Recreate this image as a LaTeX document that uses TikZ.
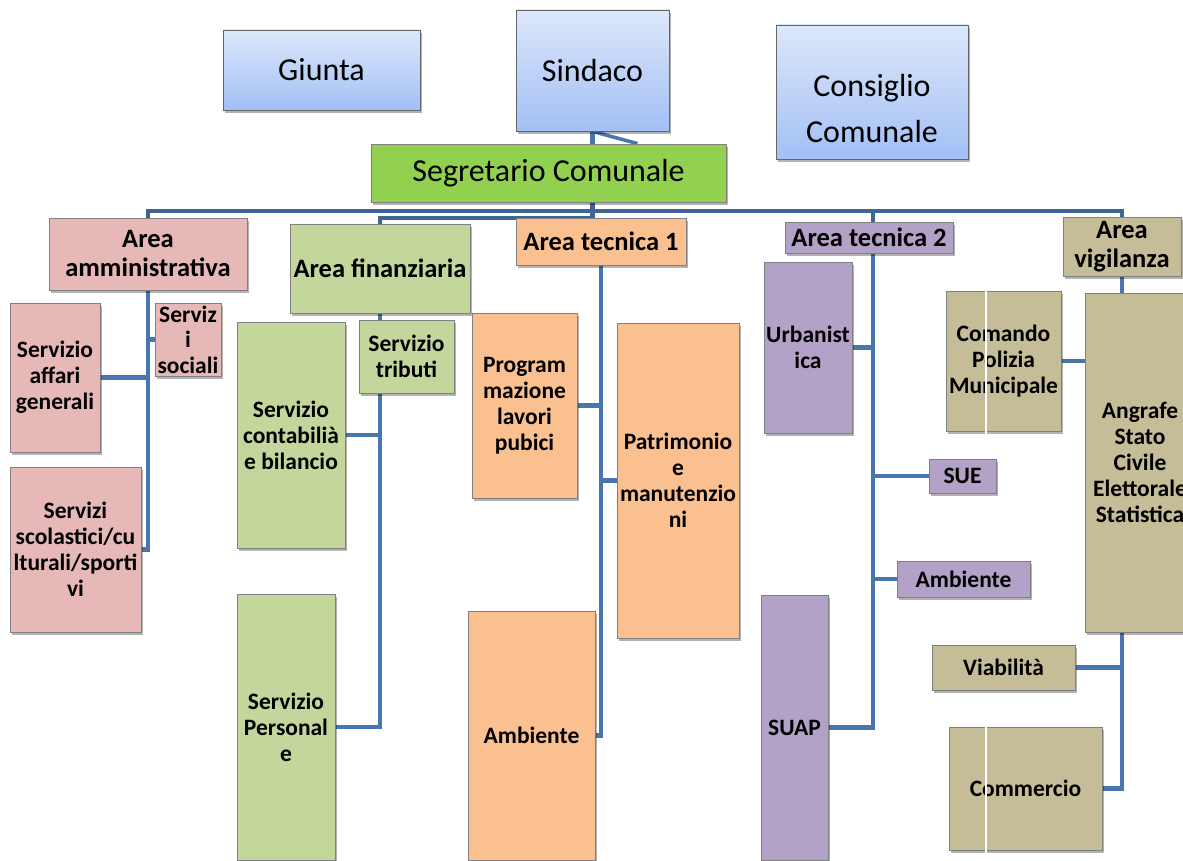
\documentclass[tikz,border=0pt]{standalone}
\usepackage{fontspec}
\setmainfont{Carlito}
\usetikzlibrary{shadows,backgrounds}
\definecolor{bluetop}{HTML}{DDE7FB}
\definecolor{bluebot}{HTML}{A2C0F5}
\definecolor{segc}{HTML}{92D050}
\definecolor{pinkc}{HTML}{E6B9B8}
\definecolor{greenc}{HTML}{C3D69B}
\definecolor{orangec}{HTML}{FAC090}
\definecolor{purplec}{HTML}{B3A2C7}
\definecolor{tanc}{HTML}{C4BD97}
\definecolor{linec}{HTML}{4A76B0}
\definecolor{busc}{HTML}{3E6597}
\newcommand{\bx}[7]{%
  \pgfmathsetmacro\bxw{#4-#2}\pgfmathsetmacro\bxh{#5-#3}%
  \node[#6, minimum width=\bxw pt, minimum height=\bxh pt] (#1) at ({(#2+#4)/2},{(#3+#5)/2}) {#7};}
\tikzset{
  box/.style={draw=black!50, line width=0.8pt, inner sep=0pt, align=center,
    font=\fontsize{23.5}{26}\selectfont\bfseries,
    drop shadow={shadow xshift=2pt, shadow yshift=-3pt, opacity=0.3, fill=black}},
  areabox/.style={box, font=\fontsize{26.5}{29}\selectfont\bfseries},
  topbox/.style={box, draw=black!60, top color=bluetop, bottom color=bluebot,
    font=\fontsize{32}{46}\selectfont},
  conn/.style={draw=linec, line width=4.5pt},
  busline/.style={draw=busc, line width=4.5pt},
  pinkbox/.style={box, fill=pinkc},
  greenbox/.style={box, fill=greenc},
  orangebox/.style={box, fill=orangec},
  purplebox/.style={box, fill=purplec},
  tanbox/.style={box, fill=tanc},
}
\begin{document}
\begin{tikzpicture}[x=1pt, y=-1pt]
\useasboundingbox (0,0) rectangle (1183,861);
% top
\bx{giunta}{223}{30}{420}{110}{topbox}{Giunta}
\bx{sind}{516}{10}{669}{131}{topbox}{Sindaco}
\bx{cons}{776}{25}{968}{159}{topbox}{}
\node[align=center, font=\fontsize{32}{46}\selectfont, yshift=-17pt] (constext) at (cons.center) {Consiglio\\Comunale};
\bx{seg}{371}{144}{726}{202}{box, fill=segc, font=\fontsize{32}{36}\selectfont}{Segretario Comunale}
% areas
\bx{amm}{49}{218}{247}{290}{areabox, fill=pinkc}{Area\\amministrativa}
\bx{fin}{290}{224}{470}{313}{areabox, fill=greenc}{Area finanziaria}
\bx{tec1}{516}{218}{686}{265}{areabox, fill=orangec}{Area tecnica 1}
\bx{tec2}{785}{222}{953}{253}{areabox, fill=purplec}{Area tecnica 2}
\bx{vig}{1063}{217}{1181}{276}{areabox, fill=tanc}{Area\\vigilanza}
% amministrativa
\bx{affari}{10}{303}{100}{452}{pinkbox}{Servizio\\affari\\generali}
\bx{sociali}{155}{303}{221}{376}{pinkbox, font=\fontsize{23.5}{25.5}\selectfont\bfseries}{Serviz\\i\\sociali}
\bx{scol}{10}{467}{141}{632}{pinkbox}{Servizi\\scolastici/cu\\lturali/sporti\\vi}
% finanziaria
\bx{trib}{359}{320}{454}{393}{greenbox}{Servizio\\tributi}
\bx{cont}{237}{322}{345}{548}{greenbox}{Servizio\\contabilià\\e bilancio}
\bx{pers}{237}{594}{335}{860}{greenbox}{Servizio\\Personal\\e}
% tecnica 1
\bx{prog}{472}{313}{577}{498}{orangebox}{Program\\mazione\\lavori\\pubici}
\bx{patr}{617}{323}{739}{638}{orangebox}{Patrimonio\\e\\manutenzio\\ni}
\bx{amb1}{468}{611}{595}{860}{orangebox}{Ambiente}
% tecnica 2
\bx{urb}{764}{262}{852}{433}{purplebox}{Urbanist\\ica}
\bx{sue}{929}{459}{996}{493}{purplebox}{SUE}
\bx{amb2}{897}{561}{1030}{597}{purplebox}{Ambiente}
\bx{suap}{761}{595}{828}{860}{purplebox}{SUAP}
% vigilanza
\bx{com}{946}{291}{1061}{431}{tanbox}{Comando\\Polizia\\Municipale}
\bx{ang}{1085}{293}{1195}{632}{tanbox}{Angrafe\\Stato\\Civile\\Elettorale\\Statistica}
\bx{viab}{932}{645}{1075}{690}{tanbox}{Viabilità}
\bx{comm}{949}{727}{1102}{850}{tanbox}{Commercio}
% white artefact lines
\draw[white, line width=1.5pt] (com.north -| 986,0) -- ([yshift=-6pt]com.south -| 986,0);
\draw[white, line width=1.5pt] (comm.north -| 986,0) -- ([yshift=-10pt]comm.south -| 986,0);
\begin{pgfonlayer}{background}
  \coordinate (bus) at (0,211);
  \coordinate (bus2) at (0,218);
  \coordinate (t2) at ([xshift=4pt]tec2.south);
  % Sindaco - Segretario
  \draw[conn] (sind.south) -- (sind.south |- seg.north);
  \draw[draw=linec, line width=3.5pt] (sind.south) -- ([xshift=45pt]sind.south |- seg.north);
  % main bus
  \draw[busline] (sind.south |- seg.south) -- (sind.south |- tec1.north);
  \draw[busline] (amm.north) -- (amm.north |- bus) -- (vig.north |- bus) -- (vig.north);
  \draw[busline] (fin.north) -- (fin.north |- bus2) -- (sind.south |- bus2);
  \draw[busline] (t2 |- tec2.north) -- (t2 |- bus);
  % amministrativa
  \draw[conn] (amm.south) |- (scol.east);
  \draw[conn] (affari.east) -- (affari.east -| amm.south);
  \draw[conn] (sociali.west) -- (sociali.west -| amm.south);
  % finanziaria
  \draw[conn] (fin.south) |- (pers.east);
  \draw[conn] (cont.east) -- (cont.east -| fin.south);
  % tecnica 1
  \draw[conn] (tec1.south) |- (amb1.east);
  \draw[conn] (prog.east) -- (prog.east -| tec1.south);
  \draw[conn] (patr.west) -- (patr.west -| tec1.south);
  % tecnica 2
  \draw[conn] (t2) |- (suap.east);
  \draw[conn] (urb.east) -- (urb.east -| t2);
  \draw[conn] (sue.west) -- (sue.west -| t2);
  \draw[conn] (amb2.west) -- (amb2.west -| t2);
  % vigilanza
  \draw[conn] (vig.south) -- (vig.south |- ang.north);
  \draw[conn] (com.east) -- (com.east -| ang.west);
  \draw[conn] (vig.south |- ang.south) |- (comm.east);
  \draw[conn] (viab.east) -- (viab.east -| vig.south);
\end{pgfonlayer}
\end{tikzpicture}
\end{document}
